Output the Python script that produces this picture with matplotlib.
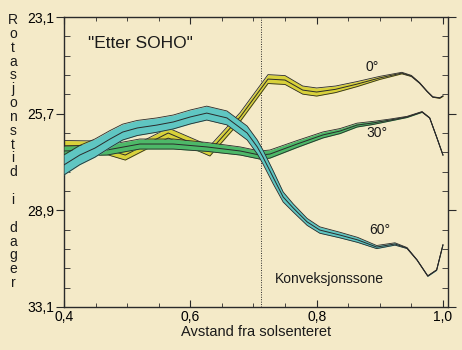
import matplotlib
matplotlib.use("Agg")
import matplotlib.pyplot as plt
import numpy as np
from matplotlib.ticker import MultipleLocator

plt.rcParams["font.family"] = ["Liberation Sans", "DejaVu Sans"]

# rotation rate in nHz (axis is linear in frequency, labelled in days)
x_0 = [0.400, 0.449, 0.497, 0.565, 0.631, 0.679, 0.723, 0.750, 0.778, 0.800,
       0.830, 0.864, 0.900, 0.935, 0.950, 0.963, 0.975, 0.984, 0.995, 1.000]
c_0 = [433.3, 433.3, 428.6, 440.0, 430.7, 448.3, 467.9, 467.4, 462.2, 461.2,
       462.6, 465.3, 468.5, 471.0, 469.5, 465.9, 461.5, 458.6, 458.1, 459.1]
e_0 = [2.8, 2.6, 2.6, 2.6, 2.6, 2.3, 2.3, 2.3, 2.1, 2.1,
       1.7, 1.3, 0.8, 0.4, 0.3, 0.2, 0.15, 0.15, 0.15, 0.15]

x_30 = [0.400, 0.468, 0.520, 0.573, 0.626, 0.679, 0.710, 0.726, 0.769, 0.810,
        0.837, 0.864, 0.889, 0.916, 0.943, 0.967, 0.979, 0.990, 1.000]
c_30 = [430.7, 431.2, 434.3, 434.3, 432.8, 430.7, 428.6, 429.1, 434.3, 439.0,
        441.0, 444.1, 445.2, 446.7, 448.3, 450.9, 447.8, 437.9, 428.6]
e_30 = [2.6, 2.6, 2.6, 2.6, 2.3, 2.1, 2.1, 2.1, 1.8, 1.55,
        1.3, 1.0, 0.8, 0.5, 0.3, 0.2, 0.15, 0.15, 0.15]

x_60 = [0.400, 0.425, 0.449, 0.473, 0.493, 0.516, 0.547, 0.573, 0.600, 0.626,
        0.658, 0.690, 0.706, 0.715, 0.731, 0.747, 0.763, 0.785, 0.805, 0.837,
        0.865, 0.895, 0.924, 0.943, 0.959, 0.976, 0.990, 1.000]
c_60 = [423.5, 428.6, 432.2, 436.9, 440.5, 442.6, 444.1, 445.7, 448.3, 450.3,
        447.8, 440.0, 432.8, 427.6, 417.2, 406.9, 401.2, 394.0, 389.8, 387.2,
        384.7, 381.0, 382.6, 380.5, 374.3, 366.0, 369.1, 382.1]
e_60 = [5.2, 5.0, 4.7, 4.4, 4.1, 3.9, 3.7, 3.6, 3.6, 3.6,
        3.6, 3.6, 3.6, 3.6, 3.4, 2.6, 2.1, 1.8, 1.65, 1.45,
        1.3, 0.8, 0.6, 0.26, 0.15, 0.15, 0.15, 0.15]

yticks = [500, 450, 400, 350]
ytick_labels = ["23,1", "25,7", "28,9", "33,1"]
xticks = [0.4, 0.6, 0.8, 1.0]
xtick_labels = ["0,4", "0,6", "0,8", "1,0"]

bg = "#f4eac8"
edge = "#2a2a2a"

fig = plt.figure(figsize=(4.62, 3.5), dpi=100, facecolor=bg)
ax = fig.add_axes([0.1385, 0.1229, 0.8312, 0.8285], facecolor=bg)

bands = [
    (x_0, c_0, e_0, "#d8d13a"),
    (x_30, c_30, e_30, "#4db868"),
    (x_60, c_60, e_60, "#5fc6c2"),
]
for z, (x, c, e, col) in enumerate(bands):
    x = np.array(x)
    c = np.array(c)
    e = np.array(e)
    ax.fill_between(x, c - e, c + e, color=col, lw=0, zorder=2 + z)
    ax.plot(x, c + e, color=edge, lw=0.6, zorder=2 + z)
    ax.plot(x, c - e, color=edge, lw=0.6, zorder=2 + z)
    ax.plot(x, c, color=edge, lw=0.7, zorder=2 + z)

ax.axvline(0.712, color=edge, lw=0.7, ls=(0, (1, 1.5)), zorder=1)

ax.set_xlim(0.4, 1.008)
ax.set_ylim(350, 500)
ax.set_xticks(xticks)
ax.set_xticklabels(xtick_labels)
ax.set_yticks(yticks)
ax.set_yticklabels(ytick_labels)
ax.xaxis.set_minor_locator(MultipleLocator(0.05))
ax.yaxis.set_minor_locator(MultipleLocator(10))
ax.tick_params(axis="x", which="major", direction="in", length=5, top=True,
               labelsize=10, pad=2, color=edge)
ax.tick_params(axis="x", which="minor", direction="in", length=3, top=True, color=edge)
ax.tick_params(axis="y", which="major", direction="out", length=6, right=True,
               labelsize=10, pad=1, color=edge)
ax.tick_params(axis="y", which="minor", direction="in", length=4, right=True, color=edge)
for s in ax.spines.values():
    s.set_color(edge)
    s.set_linewidth(1.0)

ax.set_xlabel("Avstand fra solsenteret", fontsize=10.5, labelpad=1, color="#1a1a1a")

# stacked vertical y label
ylabel = "Rotasjonstid i dager"
for i, ch in enumerate(ylabel):
    fig.text(13 / 462, 1 - (20 + i * 13.85) / 350, ch, fontsize=10,
             ha="center", va="center", color="#1a1a1a")

ax.text(0.438, 486.5, '"Etter SOHO"', fontsize=12.5, color="#1a1a1a", va="center")
ax.text(0.888, 474, "0°", fontsize=10, ha="center", va="center", color="#1a1a1a")
ax.text(0.896, 440, "30°", fontsize=10, ha="center", va="center", color="#1a1a1a")
ax.text(0.900, 390, "60°", fontsize=10, ha="center", va="center", color="#1a1a1a")
ax.text(0.734, 364.5, "Konveksjonssone", fontsize=10, va="center", color="#1a1a1a")

fig.savefig("out.png", dpi=100, facecolor=bg)
